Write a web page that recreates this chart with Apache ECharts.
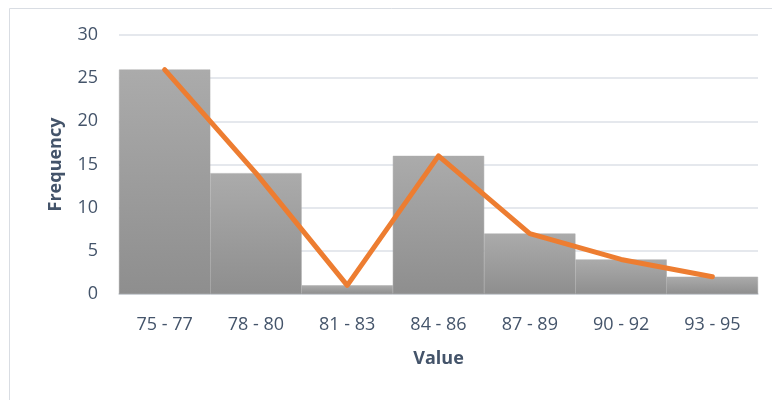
<!DOCTYPE html>
<html>
<head>
<meta charset="utf-8">
<script src="https://cdn.jsdelivr.net/npm/echarts@6/dist/echarts.min.js"></script>
<style>
  html, body { margin: 0; padding: 0; background: #fff; }
  #chart { width: 772px; height: 400px; }
</style>
</head>
<body>
<div id="chart"></div>
<script>
// Score bins and how many values fall in each
const bins = ['75 - 77', '78 - 80', '81 - 83', '84 - 86', '87 - 89', '90 - 92', '93 - 95'];
const frequency = [26, 14, 1, 16, 7, 4, 2];
const yTicks = { min: 0, max: 30, interval: 5 };

const textColor = '#44546a';
const font = '"Open Sans", Lato, sans-serif';

const chart = echarts.init(document.getElementById('chart'), null, { renderer: 'canvas' });

const barFill = new echarts.graphic.LinearGradient(0, 0, 0, 1, [
  { offset: 0, color: '#ababab' },
  { offset: 1, color: '#8e8e8e' }
]);

chart.setOption({
  animation: false,
  backgroundColor: '#ffffff',
  graphic: [{
    type: 'rect',
    shape: { x: 9.5, y: 8.5, width: 900, height: 600 },
    style: { fill: 'none', stroke: '#d9dde3', lineWidth: 1 },
    silent: true
  }],
  grid: { left: 119, right: 14, top: 35, bottom: 106, containLabel: false },
  xAxis: {
    type: 'category',
    data: bins,
    name: 'Value',
    nameLocation: 'middle',
    nameGap: 56,
    nameTextStyle: { color: textColor, fontSize: 18, fontWeight: 'bold', fontFamily: font },
    axisLine: { show: true, lineStyle: { color: '#d0d4da', width: 1.5 } },
    axisTick: { show: false },
    axisLabel: { color: textColor, fontSize: 18, fontFamily: font, margin: 22 },
    splitLine: { show: false }
  },
  yAxis: {
    type: 'value',
    min: yTicks.min,
    max: yTicks.max,
    interval: yTicks.interval,
    name: 'Frequency',
    nameLocation: 'middle',
    nameGap: 54,
    nameRotate: 90,
    nameTextStyle: { color: textColor, fontSize: 18, fontWeight: 'bold', fontFamily: font },
    axisLine: { show: false },
    axisTick: { show: false },
    axisLabel: { color: textColor, fontSize: 18, fontFamily: font, margin: 21 },
    splitLine: { show: true, lineStyle: { color: '#dde1e7', width: 1.5 } }
  },
  series: [
    {
      type: 'bar',
      data: frequency,
      barCategoryGap: '0%',
      itemStyle: { color: barFill, borderColor: barFill, borderWidth: 0.5 },
      z: 2
    },
    {
      type: 'line',
      data: frequency,
      symbol: 'none',
      lineStyle: { color: '#ed7d31', width: 5, cap: 'round', join: 'round' },
      z: 3
    }
  ]
});
</script>
</body>
</html>
